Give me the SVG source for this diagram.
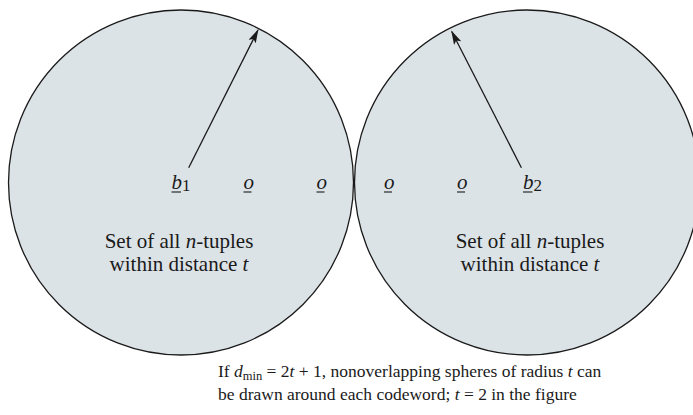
<svg xmlns="http://www.w3.org/2000/svg" width="693" height="415" viewBox="0 0 693 415">
<style>
.c{fill:#dce3e7;stroke:#1a1a1a;stroke-width:1.3}
.t{font-family:"Liberation Serif","Times New Roman",serif;fill:#1a1a1a}
.lab{font-size:21px}
.cap{font-size:17.5px}
.i{font-style:italic}
.s{font-size:17px}
.u{stroke:#1a1a1a;stroke-width:1.1}
.a{stroke:#1a1a1a;stroke-width:1.3;fill:none}
</style>
<defs>
<marker id="ah" markerWidth="14" markerHeight="8" refX="13" refY="4" orient="auto" markerUnits="userSpaceOnUse">
<path d="M0,0 L14,4 L0,8 L3,4 Z" fill="#1a1a1a"/>
</marker>
</defs>
<g id="sphere1">
<circle class="c" cx="181" cy="182.5" r="172.5"/>
<text class="t lab" x="179" y="248" text-anchor="middle">Set of all <tspan class="i">n</tspan>-tuples</text>
<text class="t lab" x="179" y="271" text-anchor="middle">within distance <tspan class="i">t</tspan></text>
</g>
<g id="sphere2">
<circle class="c" cx="527" cy="182.5" r="172.5"/>
<text class="t lab" x="530" y="248" text-anchor="middle">Set of all <tspan class="i">n</tspan>-tuples</text>
<text class="t lab" x="530" y="271" text-anchor="middle">within distance <tspan class="i">t</tspan></text>
</g>
<g id="points">
<text class="t lab" x="171.5" y="188.5"><tspan class="i">b</tspan><tspan class="s" dy="2">1</tspan></text>
<line class="u" x1="171.5" y1="192" x2="181" y2="192"/>
<text class="t lab" x="243.5" y="188.5"><tspan class="i">o</tspan></text>
<line class="u" x1="243.5" y1="192" x2="251.5" y2="192"/>
<text class="t lab" x="316.5" y="188.5"><tspan class="i">o</tspan></text>
<line class="u" x1="316.5" y1="192" x2="324.5" y2="192"/>
<text class="t lab" x="384" y="188.5"><tspan class="i">o</tspan></text>
<line class="u" x1="384" y1="192" x2="392" y2="192"/>
<text class="t lab" x="457" y="188.5"><tspan class="i">o</tspan></text>
<line class="u" x1="457" y1="192" x2="465" y2="192"/>
<text class="t lab" x="523" y="188.5"><tspan class="i">b</tspan><tspan class="s" dy="2">2</tspan></text>
<line class="u" x1="523" y1="192" x2="532.5" y2="192"/>
</g>
<g id="connectors">
<line class="a" x1="188.7" y1="167.7" x2="258" y2="30" marker-end="url(#ah)"/>
<line class="a" x1="521.4" y1="167.7" x2="451.7" y2="31.5" marker-end="url(#ah)"/>
</g>
<g id="caption">
<text class="t cap" x="218" y="377">If <tspan class="i">d</tspan><tspan font-size="12.5px" dy="3">min</tspan><tspan dy="-3"> = 2</tspan><tspan class="i">t</tspan> + 1, nonoverlapping spheres of radius <tspan class="i">t</tspan> can</text>
<text class="t cap" x="218" y="400">be drawn around each codeword; <tspan class="i">t</tspan> = 2 in the figure</text>
</g>
</svg>
